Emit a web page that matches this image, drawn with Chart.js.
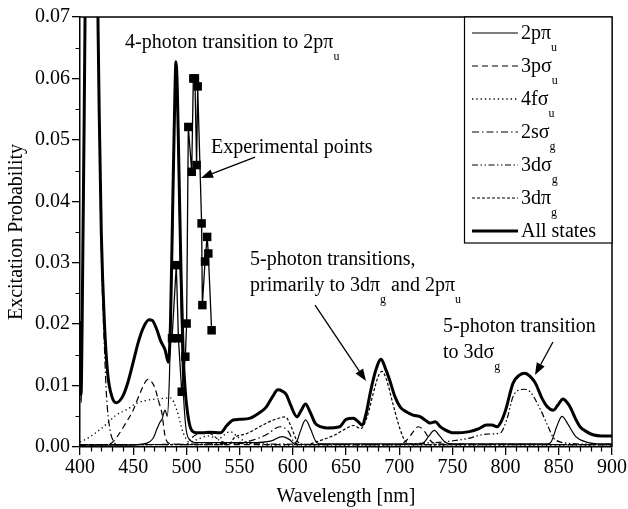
<!DOCTYPE html>
<html><head><meta charset="utf-8">
<script src="https://cdn.jsdelivr.net/npm/chart.js@4.4.1/dist/chart.umd.min.js"></script>
<style>html,body{margin:0;padding:0;background:#fff;} #wrap{width:628px;height:509px;}</style>
</head><body><div id="wrap"><canvas id="c" width="628" height="509"></canvas></div>
<script>
// ---------------- data ----------------
const xTickValues = [400,450,500,550,600,650,700,750,800,850,900];
const yTickValues = [0.00,0.01,0.02,0.03,0.04,0.05,0.06,0.07];

const allX = [400,401,402,404,405,408,411,414,416,417,418,420,423,426,430,434,440,445,450,455,460,465,468,472,476,480,483,485,487,489,490.2,491.5,493,495,497,499,502,505,510,515,522,532,538,544,550,560,568,575,581,586,590,594,598,604,608,612,616,621,626,632,644,650,657,661,665,669,673,678,683,687,691,696,701,707,713,720,725,729,734,738,742,751,766,775,782,787,792,796,800,807,813,818,823,828,834,839,845,849,854,858,861,866,870,876,882,890,900];
const allY = [0.0205,0.0085,0.02,0.055,0.075,0.12,0.14,0.12,0.085,0.068,0.055,0.035,0.02,0.012,0.0082,0.0072,0.0082,0.0105,0.0138,0.0172,0.0196,0.0207,0.0206,0.0192,0.0172,0.0158,0.0138,0.02,0.038,0.056,0.0627,0.058,0.045,0.028,0.015,0.009,0.0045,0.0027,0.0023,0.0023,0.0024,0.0023,0.0035,0.0044,0.0045,0.0047,0.0055,0.0065,0.0082,0.0093,0.0091,0.0085,0.0068,0.0049,0.006,0.007,0.0058,0.0039,0.0033,0.0031,0.0033,0.0045,0.0047,0.0042,0.0036,0.0055,0.009,0.0125,0.0143,0.0128,0.0109,0.0082,0.0065,0.0057,0.0052,0.0049,0.0043,0.0039,0.0041,0.0034,0.0029,0.0023,0.0025,0.003,0.0036,0.0036,0.0033,0.0042,0.006,0.0104,0.0117,0.012,0.0115,0.0104,0.008,0.0066,0.006,0.0068,0.0078,0.0072,0.0064,0.0045,0.0033,0.0025,0.002,0.0018,0.0018];

const p2piX = [400,440,460,465,469,472,475,477,480,482,484,486,488,490,492,494,496,499,503,510,560,580,590,597,601,604,607,612,617,621,626,700,720,723,728,733,738,743,748,800,840,843,848,853,859,866,876,890,900];
const p2piY = [0.0003,0.0003,0.0005,0.0008,0.0015,0.0028,0.004,0.0045,0.006,0.005,0.011,0.025,0.045,0.06,0.052,0.032,0.014,0.004,0.0012,0.0007,0.0007,0.001,0.0017,0.0012,0.0006,0.001,0.0025,0.0044,0.0028,0.0011,0.0005,0.0005,0.0005,0.0007,0.0018,0.0027,0.0018,0.0008,0.0005,0.0005,0.0005,0.0009,0.0033,0.005,0.0036,0.0017,0.0008,0.0005,0.0005];

const p3sigX = [400,425,430,435,442,450,457,464,470,474,477,480,484,500,700,707,712,718,724,729,735,900];
const p3sigY = [0.0003,0.0004,0.0007,0.0017,0.0036,0.006,0.009,0.011,0.0098,0.0074,0.0055,0.0017,0.0006,0.0004,0.0004,0.0011,0.0022,0.0033,0.0025,0.0011,0.0005,0.0004];

const f4sigX = [400,409,422,434,445,453,466,478,485,491,497,503,510,520,530,541,550,560,580,900];
const f4sigY = [0.0008,0.0016,0.0033,0.0052,0.0062,0.0071,0.0077,0.0079,0.008,0.006,0.0023,0.0008,0.0012,0.0018,0.0014,0.0025,0.0014,0.0006,0.0003,0.0003];

const s2sigX = [400,401,402,404,405,408,411,414,416,417,418,420,423,425,428,431,435,540,560,575,588,596,600,606,760,900];
const s2sigY = [0.019,0.0072,0.018,0.052,0.073,0.118,0.138,0.118,0.083,0.066,0.053,0.032,0.016,0.0081,0.003,0.0011,0.0004,0.0006,0.001,0.002,0.0033,0.0025,0.0011,0.0004,0.0004,0.0004];

const d3sigX = [400,500,505,515,522,531,540,700,720,740,750,765,782,795,801,807,813,818,823,833,840,845,852,870,900];
const d3sigY = [0.0004,0.0004,0.0015,0.0023,0.0022,0.0011,0.0006,0.0004,0.0006,0.0008,0.001,0.0014,0.0021,0.0023,0.0044,0.0082,0.0093,0.0094,0.009,0.006,0.0033,0.0015,0.0008,0.0005,0.0004];

const d3piX = [400,540,545,557,572,585,593,598,604,612,625,640,650,657,664,670,676,681,684,688,694,701,706,715,900];
const d3piY = [0.0004,0.0004,0.0015,0.0022,0.0036,0.0046,0.0049,0.0035,0.001,0.0004,0.001,0.002,0.003,0.0035,0.003,0.005,0.009,0.0118,0.0123,0.011,0.0071,0.0028,0.0009,0.0004,0.0004];

const expX = [486.5,490.5,492.5,495.6,499.0,500.2,501.8,505.0,506.5,508.0,509.6,510.6,514.3,515.0,517.5,519.5,520.6,523.7];
const expY = [0.0177,0.0296,0.0177,0.0090,0.0147,0.0201,0.0521,0.0448,0.0600,0.0600,0.0459,0.0587,0.0364,0.0231,0.0302,0.0342,0.0315,0.0190];

const legendLabels = [['2pπ','u'],['3pσ','u'],['4fσ','u'],['2sσ','g'],['3dσ','g'],['3dπ','g'],['All states','']];

// ---------------- chart ----------------
const FONT = "'Liberation Serif','Times New Roman',serif";
const pts = (xs, ys) => xs.map((x,i)=>({x:x, y:ys[i]}));

function curve(label, xs, ys, dash, width, order){
  return {label, data: pts(xs,ys), borderColor:'#000', borderWidth:width, borderDash:dash,
    pointRadius:0, fill:false, cubicInterpolationMode:'monotone', order};
}

const datasets = [
  {label:'Experimental points', data: pts(expX,expY), borderColor:'#000', backgroundColor:'#000',
    borderWidth:1.3, pointStyle:'rect', pointRadius:6, pointBorderWidth:0, tension:0, order:0},
  curve('All states', allX, allY, [], 3, 1),
  curve('2pπu', p2piX, p2piY, [], 1.2, 2),
  curve('3pσu', p3sigX, p3sigY, [6,4], 1.2, 3),
  curve('4fσu', f4sigX, f4sigY, [1.3,3], 1.3, 4),
  curve('2sσg', s2sigX, s2sigY, [7,3,1.5,3], 1.2, 5),
  curve('3dσg', d3sigX, d3sigY, [6,2.5,1.5,2.5,1.5,2.5], 1.2, 6),
  curve('3dπg', d3piX, d3piY, [3,2], 1.2, 7)
];
const legendOrder = [2,3,4,5,6,7,1];

function drawRich(ctx, x, y, parts){
  let cx = x;
  for (const [t, sub] of parts){
    if (!t) continue;
    ctx.font = sub ? "12px " + FONT : "20px " + FONT;
    ctx.fillText(t, cx, sub ? y + 12 : y);
    cx += ctx.measureText(t).width;
  }
}
function arrow(ctx, x1, y1, x2, y2){
  ctx.save();
  ctx.strokeStyle='#000'; ctx.fillStyle='#000'; ctx.lineWidth=1.3; ctx.setLineDash([]);
  const a = Math.atan2(y2-y1, x2-x1), L=12, W=4.5;
  const bx = x2 - L*Math.cos(a), by = y2 - L*Math.sin(a);
  ctx.beginPath(); ctx.moveTo(x1,y1); ctx.lineTo(bx,by); ctx.stroke();
  ctx.beginPath(); ctx.moveTo(x2,y2);
  ctx.lineTo(bx + W*Math.sin(a), by - W*Math.cos(a));
  ctx.lineTo(bx - W*Math.sin(a), by + W*Math.cos(a));
  ctx.closePath(); ctx.fill();
  ctx.restore();
}

// annotations in data coordinates
const notes = [
  {x:442.3, y:0.06495, parts:[['4-photon transition to 2pπ',0],['u',1]]},
  {x:523.1, y:0.04786, parts:[['Experimental points',0]]},
  {x:559.8, y:0.02963, parts:[['5-photon transitions,',0]]},
  {x:559.8, y:0.02540, parts:[['primarily to 3dπ',0],['g',1],[' and 2pπ',0],['u',1]]},
  {x:741.2, y:0.01872, parts:[['5-photon transition',0]]},
  {x:741.2, y:0.01449, parts:[['to 3dσ',0],['g',1]]}
];
const arrows = [
  [564.5,0.0472, 513.7,0.0438],
  [620.9,0.0231, 668.8,0.01074],
  [844.5,0.0171, 827.6,0.01172]
];

const decor = {
  id:'decor',
  afterDraw(chart){
    const {ctx, chartArea:a, scales:{x, y}} = chart;
    ctx.save();
    ctx.strokeStyle='#000'; ctx.fillStyle='#000';
    // frame top & right
    ctx.lineWidth=1.5; ctx.beginPath();
    ctx.moveTo(a.left, a.top); ctx.lineTo(a.right, a.top); ctx.lineTo(a.right, a.bottom); ctx.stroke();
    // minor ticks
    ctx.lineWidth=1.2; ctx.beginPath();
    for (let v=410; v<900; v+=10){ if (v%50===0) continue; const px=Math.round(x.getPixelForValue(v))+0.5; ctx.moveTo(px,a.bottom); ctx.lineTo(px,a.bottom+4.5); }
    for (let v=0.005; v<0.07; v+=0.01){ const py=Math.round(y.getPixelForValue(v))+0.5; ctx.moveTo(a.left-4.5,py); ctx.lineTo(a.left,py); }
    ctx.stroke();
    // legend
    const lx=a.right-148, ly=a.top, lw=148, lh=226;
    ctx.fillStyle='#fff'; ctx.fillRect(lx,ly,lw,lh);
    ctx.fillStyle='#000'; ctx.lineWidth=1.2; ctx.strokeRect(lx+0.5,ly,lw-0.5,lh);
    ctx.textBaseline='alphabetic'; ctx.textAlign='left';
    legendOrder.forEach((di,i)=>{
      const ds = chart.data.datasets[di];
      const cy = ly + 16 + i*33;
      ctx.save(); ctx.lineWidth=ds.borderWidth; ctx.setLineDash(ds.borderDash||[]);
      ctx.beginPath(); ctx.moveTo(lx+8, cy); ctx.lineTo(lx+54, cy); ctx.stroke(); ctx.restore();
      const lab = legendLabels[i];
      drawRich(ctx, lx+57, cy+6, [[lab[0],0],[lab[1],1]]);
    });
    // annotations
    for (const n of notes) drawRich(ctx, x.getPixelForValue(n.x), y.getPixelForValue(n.y), n.parts);
    for (const r of arrows) arrow(ctx, x.getPixelForValue(r[0]), y.getPixelForValue(r[1]), x.getPixelForValue(r[2]), y.getPixelForValue(r[3]));
    ctx.restore();
  }
};

new Chart(document.getElementById('c'), {
  type:'line',
  data:{datasets},
  options:{
    responsive:false, animation:false, devicePixelRatio:1,
    layout:{padding:{top:17, right:16, left:0, bottom:0}},
    plugins:{legend:{display:false}, tooltip:{enabled:false}},
    scales:{
      x:{type:'linear', min:400, max:900,
        afterFit(s){ s.height = 62; },
        afterBuildTicks(s){ s.ticks = xTickValues.map(v=>({value:v})); },
        ticks:{color:'#000', font:{family:FONT, size:20}, padding:1, maxRotation:0, autoSkip:false,
          callback:(v)=>String(v)},
        grid:{drawOnChartArea:false, color:'#000', lineWidth:1.3, tickLength:8},
        border:{display:true, color:'#000', width:1.5},
        title:{display:true, text:'Wavelength [nm]', color:'#000', font:{family:FONT, size:20}, padding:{top:0,bottom:0}}
      },
      y:{type:'linear', min:0, max:0.07,
        afterFit(s){ s.width = 80; },
        afterBuildTicks(s){ s.ticks = yTickValues.map(v=>({value:v})); },
        ticks:{color:'#000', font:{family:FONT, size:20}, padding:2, autoSkip:false,
          callback:(v)=>Number(v).toFixed(2)},
        grid:{drawOnChartArea:false, color:'#000', lineWidth:1.3, tickLength:8},
        border:{display:true, color:'#000', width:1.5},
        title:{display:true, text:'Excitation Probability', color:'#000', font:{family:FONT, size:20}, padding:{top:5,bottom:0}}
      }
    }
  },
  plugins:[decor]
});
</script>
</body></html>
